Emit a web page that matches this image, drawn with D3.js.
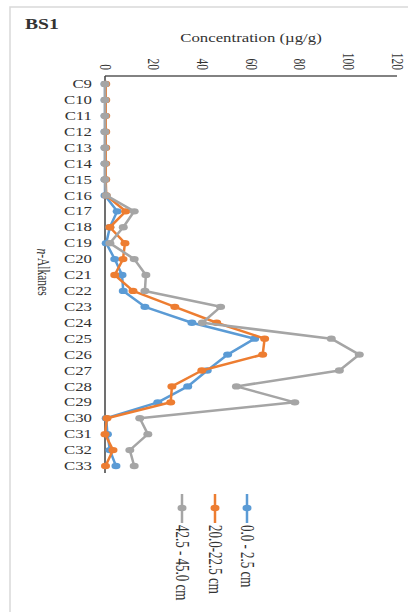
<!DOCTYPE html>
<html>
<head>
<meta charset="utf-8">
<script src="https://cdn.jsdelivr.net/npm/d3@7"></script>
<style>
  body { margin: 0; background: #fff; }
  text { font-family: "Liberation Serif", "Times New Roman", serif; fill: #333; }
</style>
</head>
<body>
<svg id="chart" width="408" height="612"></svg>
<script>
// n-alkane chain lengths
const categories = ['C9', 'C10', 'C11', 'C12', 'C13', 'C14', 'C15', 'C16', 'C17', 'C18', 'C19', 'C20', 'C21',
  'C22', 'C23', 'C24', 'C25', 'C26', 'C27', 'C28', 'C29', 'C30', 'C31', 'C32', 'C33']

// concentration (ug/g) per depth interval
const depth0 = [0, 0, 0, 0, 0, 0, 0, 0, 5, 2, 0.5, 4, 7, 7.5, 16.4, 35.7, 61.5, 50.4, 42, 34, 21.7, 0.5, 1, 2, 4.5]
const depth20 = [0.3, 0.3, 0.3, 0.3, 0.3, 0.3, 0.3, 0.5, 8.5, 2, 8.2, 7.4, 4, 11.5, 28.7, 45.9, 65.6, 64.8, 39.8, 27.5, 27, 0.8, 0, 3.3, 0.2]
const depth42 = [0, 0, 0, 0, 0, 0, 0, 0.5, 12, 7.5, 2, 12, 16.8, 16.4, 47.5, 40, 93, 104.5, 96.3, 54, 78, 14.3, 17.6, 10.2, 12]

const seriesNames = ['0.0 - 2.5 cm', '20.0-22.5 cm', '42.5 - 45.0 cm']
const seriesColors = ['#5b9bd5', '#ed7d31', '#a5a5a5']
const xTicks = [0, 20, 40, 60, 80, 100, 120]

const series = [depth0, depth20, depth42].map((vals, i) => ({
  name: seriesNames[i],
  color: seriesColors[i],
  values: vals.map((v, j) => ({ cat: categories[j], value: v }))
}))

const stretch = 1.4 // the picture is squeezed wide, so text is too
const svg = d3.select('#chart')

// light frame round the chart area
svg.append('rect')
  .attr('x', 10).attr('y', 7)
  .attr('width', 420).attr('height', 620)
  .attr('fill', 'none')
  .attr('stroke', '#d9d9d9')
  .attr('stroke-width', 1.5)

const x = d3.scaleLinear().domain([0, 120]).range([105, 397])
const y = d3.scalePoint().domain(categories).range([84, 466])
const axisTop = 76
const axisBottom = 473

function txt(str, tx, ty, opts = {}) {
  const rot = opts.rotate ? ` rotate(${opts.rotate})` : ''
  return svg.append('text')
    .attr('transform', `translate(${tx},${ty}) scale(${stretch},1)${rot}`)
    .attr('text-anchor', opts.anchor || 'start')
    .attr('dominant-baseline', opts.baseline || 'auto')
    .style('font-size', (opts.size || 12) + 'px')
    .style('font-weight', opts.weight || 'normal')
    .text(str)
}

// titles
txt('BS1', 25, 29, { size: 14, weight: 'bold' })
txt('Concentration (\u00b5g/g)', x(60), 42, { size: 12, anchor: 'middle' })
txt('n-Alkanes', 43, 272, { size: 11.5, anchor: 'middle', baseline: 'central', rotate: 90 })
  .html('<tspan font-style="italic">n</tspan>-Alkanes')

// value axis along the top
svg.append('line')
  .attr('x1', x(0)).attr('x2', x(120))
  .attr('y1', axisTop).attr('y2', axisTop)
  .attr('stroke', '#595959').attr('stroke-width', 1.5)

xTicks.forEach((t) => {
  txt(String(t), x(t), axisTop - 6, { size: 11.5, anchor: 'end', baseline: 'central', rotate: 90 })
})

// category axis on the left
svg.append('line')
  .attr('x1', x(0)).attr('x2', x(0))
  .attr('y1', axisTop).attr('y2', axisBottom)
  .attr('stroke', '#404040').attr('stroke-width', 1.5)

categories.forEach((c) => {
  txt(c, 92, y(c), { size: 12, anchor: 'end', baseline: 'central' })
})

// series lines and markers
const line = d3.line()
  .x((d) => x(d.value))
  .y((d) => y(d.cat))

series.forEach((s) => {
  const g = svg.append('g')
  g.append('path')
    .attr('d', line(s.values))
    .attr('fill', 'none')
    .attr('stroke', s.color)
    .attr('stroke-width', 2.5)
    .attr('stroke-linejoin', 'round')
  g.selectAll('ellipse')
    .data(s.values)
    .enter()
    .append('ellipse')
    .attr('cx', (d) => x(d.value))
    .attr('cy', (d) => y(d.cat))
    .attr('rx', 4.5)
    .attr('ry', 3.2)
    .attr('fill', s.color)
})

// legend at the bottom, entries side by side, text turned
const legendX = [247, 215, 182]
series.forEach((s, i) => {
  const lx = legendX[i]
  svg.append('line')
    .attr('x1', lx).attr('x2', lx)
    .attr('y1', 494).attr('y2', 523)
    .attr('stroke', s.color).attr('stroke-width', 2.5)
  svg.append('ellipse')
    .attr('cx', lx).attr('cy', 508)
    .attr('rx', 4.5).attr('ry', 3.2)
    .attr('fill', s.color)
  txt(s.name, lx, 525, { size: 13, anchor: 'start', baseline: 'central', rotate: 90 })
})
</script>
</body>
</html>
